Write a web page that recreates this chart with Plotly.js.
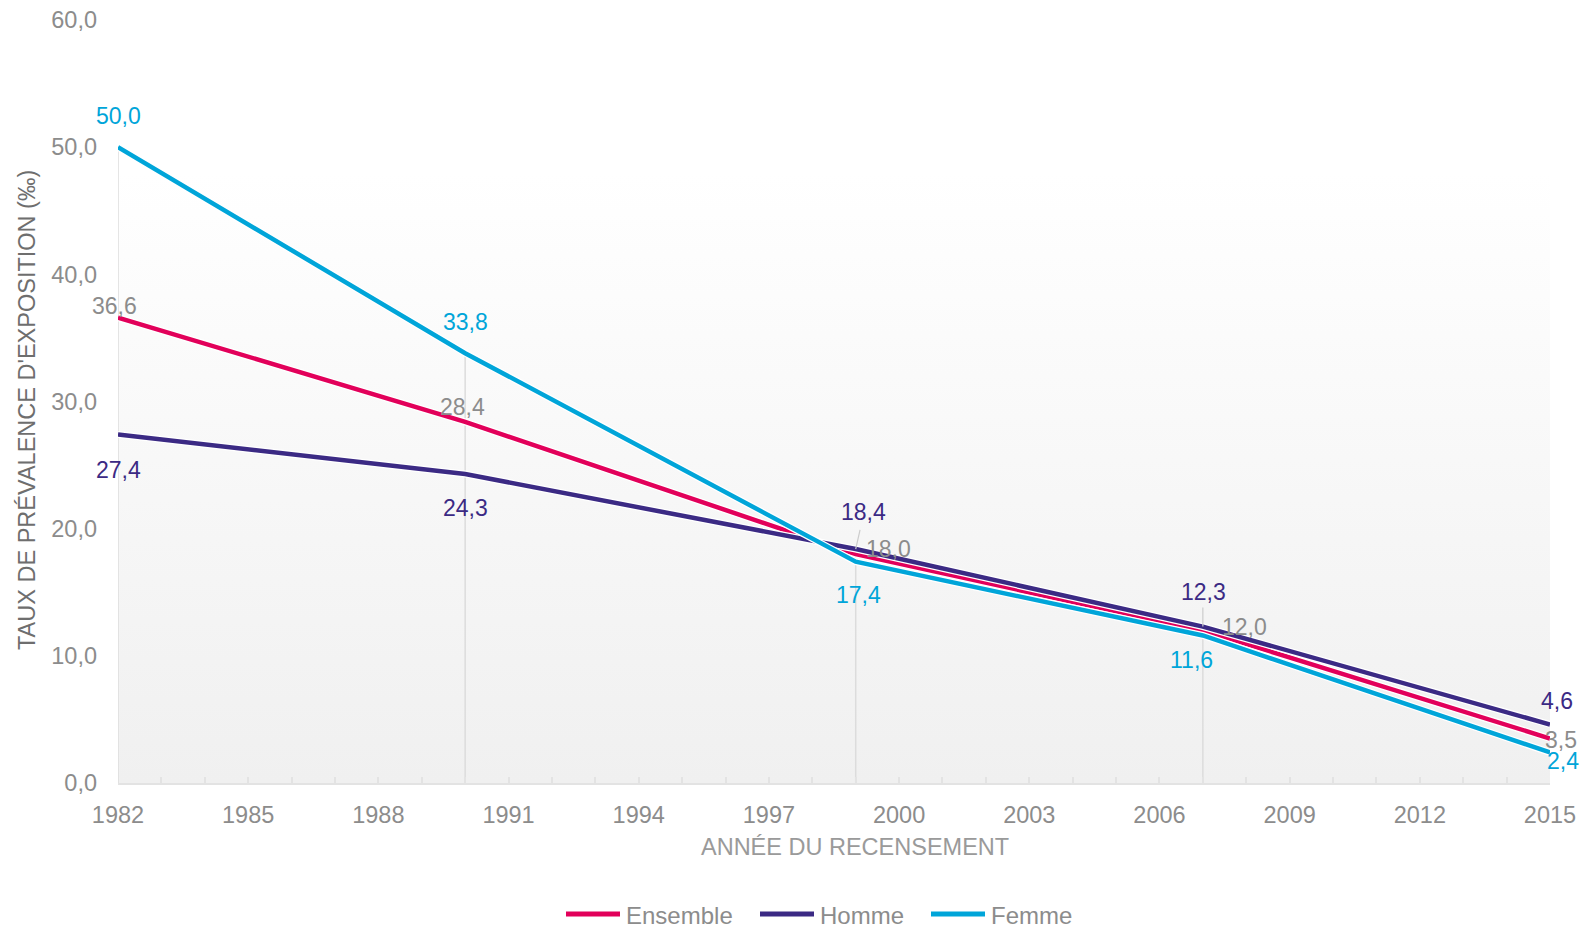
<!DOCTYPE html>
<html>
<head>
<meta charset="utf-8">
<script src="https://cdn.plot.ly/plotly-3.0.1.min.js"></script>
<style>
  html, body { margin: 0; padding: 0; background: #ffffff; }
  #chart { width: 1580px; height: 927px; }
</style>
</head>
<body>
<div id="chart"></div>
<script>
// ---- Data ----
const years = [1982, 1990, 1999, 2007, 2015];
const seriesNames = ["Ensemble", "Homme", "Femme"];
const ensemble = [36.6, 28.4, 18.0, 12.0, 3.5];
const homme = [27.4, 24.3, 18.4, 12.3, 4.6];
const femme = [50.0, 33.8, 17.4, 11.6, 2.4];
const xTickVals = [1982, 1985, 1988, 1991, 1994, 1997, 2000, 2003, 2006, 2009, 2012, 2015];
const yTickVals = [0, 10, 20, 30, 40, 50, 60];
const xTitle = "ANNÉE DU RECENSEMENT";
const yTitle = "TAUX DE PRÉVALENCE D'EXPOSITION (‰)";

// ---- Styles ----
const colors = { Ensemble: "#e2005a", Homme: "#3b2a84", Femme: "#00a5d9" };
const labelColors = { Ensemble: "#8c8c8c", Homme: "#3b2a84", Femme: "#00a5d9" };
const values = { Ensemble: ensemble, Homme: homme, Femme: femme };
const FONT = "Liberation Sans, Arial, sans-serif";

// label pixel offsets [xshift, yshift] per series, per point
const labelOffsets = {
  Femme:    [[0, 31], [0, 31], [3, -33], [-11, -25], [13, -9]],
  Ensemble: [[-4, 12], [-3, 15], [33, 5], [42, 3], [11, -2]],
  Homme:    [[0, -35], [0, -34], [8, 37], [1, 35], [7, 24]]
};

// plot geometry (pixels)
const W = 1580, H = 927;
const M = { l: 118, r: 30, t: 20, b: 144 };
const PW = W - M.l - M.r, PH = H - M.t - M.b;
const px = x => (x - M.l) / PW;
const py = y => (H - M.b - y) / PH;

const fmt = v => v.toFixed(1).replace(".", ",");

// ---- Traces ----
const traces = [];
seriesNames.forEach(name => {
  traces.push({
    x: years, y: values[name], type: "scatter", mode: "lines",
    line: { color: "#ffffff", width: 7 }, hoverinfo: "skip", showlegend: false
  });
  traces.push({
    x: years, y: values[name], type: "scatter", mode: "lines", name: name,
    line: { color: colors[name], width: 4.5 }, showlegend: false
  });
});

// ---- Annotations ----
const annotations = [];
seriesNames.forEach(name => {
  values[name].forEach((v, i) => {
    annotations.push({
      x: years[i], y: v, xref: "x", yref: "y", text: fmt(v), showarrow: false,
      xanchor: "center", yanchor: "middle",
      xshift: labelOffsets[name][i][0], yshift: labelOffsets[name][i][1],
      font: { family: FONT, size: 23, color: labelColors[name] }
    });
  });
});

// axis titles as annotations
annotations.push({
  xref: "paper", yref: "paper", x: px(855), y: py(847), text: xTitle, showarrow: false,
  xanchor: "center", yanchor: "middle", font: { family: FONT, size: 23.5, color: "#9a9a9a" }
});
annotations.push({
  xref: "paper", yref: "paper", x: px(27), y: py(410), text: yTitle, showarrow: false,
  textangle: -90, xanchor: "center", yanchor: "middle", font: { family: FONT, size: 23.5, color: "#6e6e6e" }
});

// ---- Shapes: drop lines ----
const shapes = [];
years.forEach((yr, i) => {
  if (i === years.length - 1) return;
  const top = Math.max(ensemble[i], homme[i], femme[i]);
  shapes.push({
    type: "line", xref: "x", yref: "y", x0: yr, x1: yr, y0: 0, y1: top,
    line: { color: "#dcdcdc", width: 1.5 }, layer: "below"
  });
});
// leader lines near labels
shapes.push({ type: "line", xref: "x", yref: "y", x0: years[2], x1: years[2] + 0.1, y0: homme[2], y1: homme[2] + 1.5,
  line: { color: "#cccccc", width: 1.2 } });
shapes.push({ type: "line", xref: "x", yref: "y", x0: years[3], x1: years[3], y0: homme[3], y1: homme[3] + 1.5,
  line: { color: "#cccccc", width: 1.2 } });

// ---- Manual legend ----
const legendY = 915;
const legendItems = [
  { name: "Ensemble", x0: 566, x1: 620, tx: 624 },
  { name: "Homme", x0: 760, x1: 814, tx: 818 },
  { name: "Femme", x0: 931, x1: 985, tx: 989 }
];
legendItems.forEach(it => {
  shapes.push({
    type: "line", xref: "paper", yref: "paper",
    x0: px(it.x0), x1: px(it.x1), y0: py(legendY - 1), y1: py(legendY - 1),
    line: { color: colors[it.name], width: 5 }
  });
  annotations.push({
    xref: "paper", yref: "paper", x: px(it.tx), y: py(legendY), text: it.name,
    showarrow: false, xanchor: "left", yanchor: "middle",
    font: { family: FONT, size: 24, color: "#8c8c8c" }
  });
});

// ---- Background gradient ----
const svg = '<svg xmlns="http://www.w3.org/2000/svg" width="100" height="100" preserveAspectRatio="none">' +
  '<defs><linearGradient id="g" x1="0" y1="0" x2="0" y2="1">' +
  '<stop offset="0" stop-color="#ffffff"/><stop offset="0.2" stop-color="#ffffff"/>' +
  '<stop offset="1" stop-color="#f0f0f0"/></linearGradient></defs>' +
  '<rect width="100" height="100" fill="url(#g)"/></svg>';

const layout = {
  width: W, height: H,
  margin: M,
  paper_bgcolor: "#ffffff",
  plot_bgcolor: "rgba(0,0,0,0)",
  separators: ", ",
  showlegend: false,
  font: { family: FONT, color: "#8c8c8c" },
  images: [{
    source: "data:image/svg+xml;charset=utf-8," + encodeURIComponent(svg),
    xref: "paper", yref: "paper", x: 0, y: 1, sizex: 1, sizey: 1,
    xanchor: "left", yanchor: "top", sizing: "stretch", layer: "below"
  }],
  xaxis: {
    range: [1982, 2015], tickvals: xTickVals, ticktext: xTickVals.map(String),
    showgrid: false, zeroline: false, showline: true, linecolor: "#e3e3e3", linewidth: 2,
    ticks: "inside", ticklen: 6, tickwidth: 2, tickcolor: "#e3e3e3",
    minor: { dtick: 1, tick0: 1982, ticks: "inside", ticklen: 6, tickwidth: 2, tickcolor: "#e3e3e3", showgrid: false },
    tickfont: { family: FONT, size: 23.5, color: "#8c8c8c" },
    ticklabelstandoff: 10,
    fixedrange: true
  },
  yaxis: {
    range: [0, 60], tickvals: yTickVals, tickformat: ".1f",
    showgrid: false, zeroline: false, showline: false, ticks: "",
    tickfont: { family: FONT, size: 23.5, color: "#8c8c8c" },
    ticklabelstandoff: 20,
    fixedrange: true
  },
  annotations: annotations,
  shapes: shapes
};

Plotly.newPlot("chart", traces, layout, { displayModeBar: false, staticPlot: true });
</script>
</body>
</html>
